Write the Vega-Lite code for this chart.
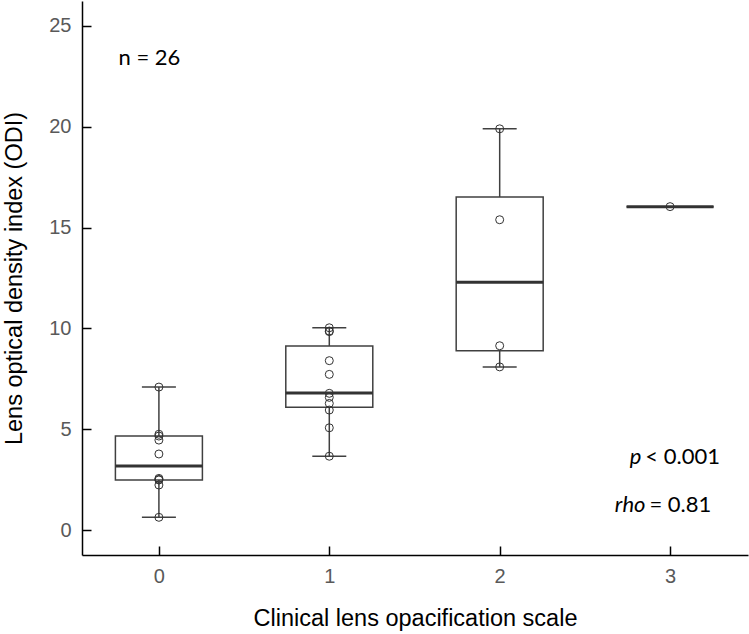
{
  "$schema": "https://vega.github.io/schema/vega-lite/v6.json",
  "width": 666,
  "height": 554,
  "autosize": {"type": "none"},
  "padding": {"left": 82, "top": 1, "right": 1, "bottom": 79},
  "background": "white",
  "config": {
    "view": {"stroke": null},
    "font": "Liberation Sans",
    "axis": {
      "grid": false,
      "domainColor": "black",
      "domainWidth": 1.5,
      "tickColor": "black",
      "tickWidth": 1.5,
      "tickSize": -9,
      "labelColor": "#595959",
      "labelFont": "Liberation Sans",
      "labelFontSize": 20,
      "titleFont": "Liberation Sans",
      "titleFontSize": 23.5,
      "titleFontWeight": "normal",
      "titleColor": "black"
    }
  },
  "datasets": {
    "stats": [
      {"grade": 0, "lower": 0.63, "q1": 2.48, "median": 3.17, "q3": 4.66, "upper": 7.09},
      {"grade": 1, "lower": 3.66, "q1": 6.09, "median": 6.8, "q3": 9.13, "upper": 10.03},
      {"grade": 2, "lower": 8.09, "q1": 8.89, "median": 12.29, "q3": 16.52, "upper": 19.9},
      {"grade": 3, "lower": 16.04, "q1": 16.04, "median": 16.04, "q3": 16.04, "upper": 16.04}
    ],
    "points": [
      {"grade": 0, "odi": 7.09},
      {"grade": 0, "odi": 4.75},
      {"grade": 0, "odi": 4.66},
      {"grade": 0, "odi": 4.46},
      {"grade": 0, "odi": 3.77},
      {"grade": 0, "odi": 2.56},
      {"grade": 0, "odi": 2.51},
      {"grade": 0, "odi": 2.48},
      {"grade": 0, "odi": 2.23},
      {"grade": 0, "odi": 0.63},
      {"grade": 1, "odi": 10.03},
      {"grade": 1, "odi": 9.87},
      {"grade": 1, "odi": 9.84},
      {"grade": 1, "odi": 8.4},
      {"grade": 1, "odi": 7.72},
      {"grade": 1, "odi": 6.78},
      {"grade": 1, "odi": 6.58},
      {"grade": 1, "odi": 6.28},
      {"grade": 1, "odi": 5.95},
      {"grade": 1, "odi": 5.07},
      {"grade": 1, "odi": 3.66},
      {"grade": 2, "odi": 19.9},
      {"grade": 2, "odi": 15.39},
      {"grade": 2, "odi": 9.14},
      {"grade": 2, "odi": 8.09},
      {"grade": 3, "odi": 16.04}
    ],
    "notes": [
      {"x": -0.237, "y": 23.41, "italic": "", "rest": "n = 26"},
      {"x": 2.855, "y": 3.62, "italic": "p", "rest": "< 0.001"},
      {"x": 2.879, "y": 1.24, "italic": "rho", "rest": "= 0.81"}
    ]
  },
  "layer": [
    {
      "data": {"name": "stats"},
      "mark": {"type": "rule", "color": "#404040", "strokeWidth": 1.5},
      "encoding": {
        "x": {
          "field": "grade",
          "type": "quantitative",
          "scale": {"domain": [-0.422, 3.428], "nice": false, "zero": false},
          "axis": {
            "values": [0, 1, 2, 3],
            "format": "d",
            "labelPadding": 20,
            "titlePadding": 20
          },
          "title": "Clinical lens opacification scale"
        },
        "y": {
          "field": "lower",
          "type": "quantitative",
          "scale": {"domain": [-1.24, 26.24], "nice": false, "zero": false},
          "axis": {
            "values": [0, 5, 10, 15, 20, 25],
            "labelPadding": 20,
            "titlePadding": 22
          },
          "title": "Lens optical density index (ODI)"
        },
        "y2": {"field": "upper"}
      }
    },
    {
      "data": {"name": "stats"},
      "mark": {"type": "bar", "width": 87, "fill": "white", "stroke": "#404040", "strokeWidth": 1.5},
      "encoding": {
        "x": {"field": "grade", "type": "quantitative"},
        "y": {"field": "q1", "type": "quantitative"},
        "y2": {"field": "q3"}
      }
    },
    {
      "data": {"name": "stats"},
      "mark": {"type": "tick", "orient": "horizontal", "size": 34, "thickness": 1.5, "color": "#404040", "opacity": 1},
      "encoding": {
        "x": {"field": "grade", "type": "quantitative"},
        "y": {"field": "lower", "type": "quantitative"}
      }
    },
    {
      "data": {"name": "stats"},
      "mark": {"type": "tick", "orient": "horizontal", "size": 34, "thickness": 1.5, "color": "#404040", "opacity": 1},
      "encoding": {
        "x": {"field": "grade", "type": "quantitative"},
        "y": {"field": "upper", "type": "quantitative"}
      }
    },
    {
      "data": {"name": "stats"},
      "mark": {"type": "tick", "orient": "horizontal", "size": 87, "thickness": 3, "color": "#333333", "opacity": 1},
      "encoding": {
        "x": {"field": "grade", "type": "quantitative"},
        "y": {"field": "median", "type": "quantitative"}
      }
    },
    {
      "data": {"name": "points"},
      "mark": {"type": "point", "shape": "circle", "size": 64, "filled": false, "stroke": "#333333", "strokeWidth": 1, "opacity": 1},
      "encoding": {
        "x": {"field": "grade", "type": "quantitative"},
        "y": {"field": "odi", "type": "quantitative"}
      }
    },
    {
      "data": {"name": "notes"},
      "mark": {"type": "text", "align": "right", "baseline": "middle", "dx": -4, "font": "Lato", "fontSize": 22, "fontStyle": "italic", "color": "black"},
      "encoding": {
        "x": {"field": "x", "type": "quantitative"},
        "y": {"field": "y", "type": "quantitative"},
        "text": {"field": "italic"}
      }
    },
    {
      "data": {"name": "notes"},
      "mark": {"type": "text", "align": "left", "baseline": "middle", "dx": 0, "font": "Lato", "fontSize": 22, "color": "black"},
      "encoding": {
        "x": {"field": "x", "type": "quantitative"},
        "y": {"field": "y", "type": "quantitative"},
        "text": {"field": "rest"}
      }
    }
  ]
}
